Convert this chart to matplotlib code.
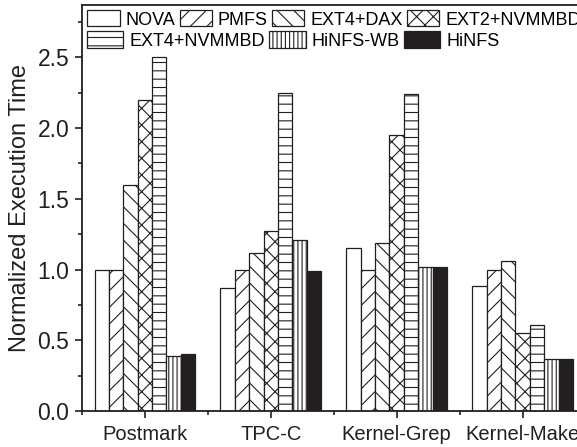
import numpy as np
import matplotlib.pyplot as plt
from matplotlib.ticker import MultipleLocator, FixedLocator

plt.rcParams['font.family'] = ['Liberation Sans', 'DejaVu Sans']
plt.rcParams['hatch.linewidth'] = 0.8

# data
categories = ['Postmark', 'TPC-C', 'Kernel-Grep', 'Kernel-Make']
systems = ['NOVA', 'PMFS', 'EXT4+DAX', 'EXT2+NVMMBD', 'EXT4+NVMMBD', 'HiNFS-WB', 'HiNFS']
nova = [1.00, 0.87, 1.15, 0.88]
pmfs = [1.00, 1.00, 1.00, 1.00]
ext4_dax = [1.60, 1.12, 1.19, 1.06]
ext2_nvmmbd = [2.20, 1.27, 1.95, 0.55]
ext4_nvmmbd = [2.50, 2.25, 2.24, 0.61]
hinfs_wb = [0.39, 1.21, 1.02, 0.37]
hinfs = [0.40, 0.99, 1.02, 0.37]

series = [nova, pmfs, ext4_dax, ext2_nvmmbd, ext4_nvmmbd, hinfs_wb, hinfs]
hatches = [None, '//', '\\\\', 'xx', '--', '||||', None]
faces = ['white'] * 6 + ['#231f20']
edge = '#231f20'

fig = plt.figure(figsize=(5.77, 4.47), dpi=100)
ax = fig.add_axes([0.142, 0.0805, 1.0147 - 0.142, 0.989 - 0.0805])

x = np.arange(1, len(categories) + 1)
width = 0.8 / len(series)
handles = []
for i, vals in enumerate(series):
    pos = x - 0.4 + width * (i + 0.5)
    b = ax.bar(pos, vals, width, color=faces[i], edgecolor=edge,
               hatch=hatches[i], linewidth=0.9, label=systems[i])
    handles.append(b)

ax.set_xlim(0.5, 4.5)
ax.set_ylim(0, 2.87)
ax.set_xticks(x)
ax.set_xticklabels(categories)
ax.xaxis.set_minor_locator(FixedLocator([0.5, 1.5, 2.5, 3.5, 4.5]))
ax.yaxis.set_major_locator(MultipleLocator(0.5))
ax.yaxis.set_minor_locator(MultipleLocator(0.25))
ax.yaxis.set_major_formatter(plt.FormatStrFormatter('%.1f'))
ax.tick_params(axis='both', which='major', direction='out', length=5, width=1.2,
               colors='#231f20')
ax.tick_params(axis='both', which='minor', direction='out', length=3, width=1.2,
               colors='#231f20')
ax.tick_params(axis='x', which='major', labelsize=14.5, pad=5)
ax.tick_params(axis='y', which='major', labelsize=16.5, pad=4)
for s in ax.spines.values():
    s.set_linewidth(1.3)
    s.set_color('#231f20')

ax.set_ylabel('Normalized Execution Time', fontsize=17, color='#231f20', labelpad=5)

# Origin-style legend: two independent rows
leg_kw = dict(loc='upper left', frameon=False, fontsize=13, handleheight=1.0,
              handletextpad=0.33, borderaxespad=0.3, borderpad=0)
leg1 = ax.legend(handles[:4], systems[:4], bbox_to_anchor=(0.0, 1.0), ncol=4,
                 handlelength=1.8, columnspacing=0.22, **leg_kw)
ax.add_artist(leg1)
ax.legend(handles[4:], systems[4:], bbox_to_anchor=(0.0, 0.948), ncol=3,
          handlelength=2.0, columnspacing=0.25, **leg_kw)

fig.savefig('out.png', dpi=100)
